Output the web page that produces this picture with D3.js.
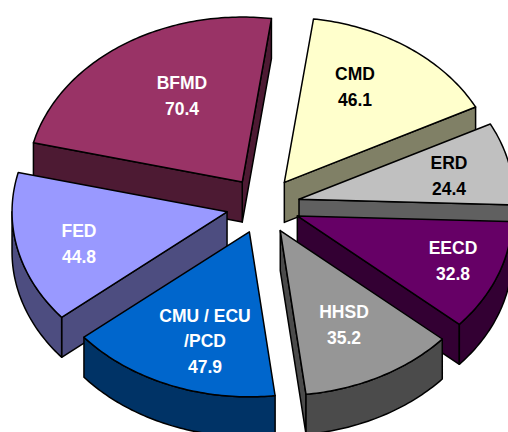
<!DOCTYPE html>
<html>
<head>
<meta charset="utf-8">
<title>Exploded pie</title>
<script src="https://cdn.jsdelivr.net/npm/d3@7"></script>
<style>
  html, body { margin: 0; padding: 0; background: #fff; overflow: hidden; }
  svg { display: block; }
</style>
</head>
<body>
<div id="chart"></div>
<script>
// values, clockwise from the CMD slice
const categories = ["CMD", "ERD", "EECD", "HHSD", "CMU / ECU\n/PCD", "FED", "BFMD"];
const values = [46.1, 24.4, 32.8, 35.2, 47.9, 44.8, 70.4];
const topColors = ["#ffffcc", "#c0c0c0", "#660066", "#969696", "#0066cc", "#9999ff", "#993366"];
const sideColors = ["#808066", "#606060", "#330033", "#4b4b4b", "#003366", "#4d4d80", "#4d1a33"];
const textColors = ["#000", "#000", "#fff", "#fff", "#fff", "#fff", "#fff"];
// label centres, the original placed these by hand
const labelCentres = [[355, 87], [449, 176], [453, 261], [344, 325], [205, 341], [79, 244], [182, 96]];

const width = 508;
const height = 432;
const cx = 263;
const cy = 205.5;
const rx = 215;
const ry = 165;
const depth = 40;
const explode = 36.9;
const firstAngle = 7.8 * Math.PI / 180;

const svg = d3.select("#chart").append("svg")
    .attr("width", width)
    .attr("height", height)
    .attr("viewBox", `0 0 ${width} ${height}`);

const pie = d3.pie()
    .sort(null)
    .startAngle(firstAngle)
    .endAngle(firstAngle + 2 * Math.PI);

const slices = pie(values).map((d, i) => {
    const mid = (d.startAngle + d.endAngle) / 2;
    return {
        ...d,
        i,
        mid,
        ax: cx + explode * Math.sin(mid),
        ay: cy - explode * (ry / rx) * Math.cos(mid)
    };
});

const line = d3.line();

function rimPoint(s, a, drop = 0) {
    return [s.ax + rx * Math.sin(a), s.ay - ry * Math.cos(a) + drop];
}

function rim(s, a0, a1, drop = 0) {
    const n = Math.max(2, Math.ceil((a1 - a0) * 60));
    return d3.range(n + 1).map(k => rimPoint(s, a0 + (a1 - a0) * k / n, drop));
}

function wall(s, a) {
    const p = rimPoint(s, a);
    return line([[s.ax, s.ay], p, [p[0], p[1] + depth], [s.ax, s.ay + depth]]) + "Z";
}

// painted from the back of the pie to the front
const ordered = slices.slice().sort((a, b) => d3.ascending(a.ay, b.ay));

const g = svg.selectAll("g.slice")
    .data(ordered)
    .enter()
    .append("g")
    .attr("class", "slice")
    .attr("stroke", "#000")
    .attr("stroke-width", 1.5)
    .attr("stroke-linejoin", "round");

g.each(function(s) {
    const el = d3.select(this);
    const side = sideColors[s.i];

    // cut faces, only those turned towards the viewer
    if (Math.sin(s.endAngle) > 0) {
        el.append("path").attr("d", wall(s, s.endAngle)).attr("fill", side);
    }
    if (Math.sin(s.startAngle) < 0) {
        el.append("path").attr("d", wall(s, s.startAngle)).attr("fill", side);
    }

    // outer wall, the front half of the ellipse
    for (const turn of [0, 2 * Math.PI]) {
        const a0 = Math.max(s.startAngle, Math.PI / 2 + turn);
        const a1 = Math.min(s.endAngle, 3 * Math.PI / 2 + turn);
        if (a1 > a0) {
            const pts = rim(s, a0, a1).concat(rim(s, a0, a1, depth).reverse());
            el.append("path").attr("d", line(pts) + "Z").attr("fill", side);
        }
    }

    el.append("path")
        .attr("d", line([[s.ax, s.ay], ...rim(s, s.startAngle, s.endAngle)]) + "Z")
        .attr("fill", topColors[s.i]);
});

const lineGap = 25.5;

svg.selectAll("text.label")
    .data(slices)
    .enter()
    .append("text")
    .attr("class", "label")
    .attr("font-family", "'Liberation Sans', Arial, sans-serif")
    .attr("font-size", 17.5)
    .attr("font-weight", "bold")
    .attr("text-anchor", "middle")
    .attr("fill", d => textColors[d.i])
    .each(function(d) {
        const rows = [...categories[d.i].split("\n"), d.value.toFixed(1)];
        const [x, y] = labelCentres[d.i];
        d3.select(this).selectAll("tspan")
            .data(rows)
            .enter()
            .append("tspan")
            .attr("x", x)
            .attr("y", (t, k) => y + (k - (rows.length - 1) / 2) * lineGap + 6)
            .text(t => t);
    });
</script>
</body>
</html>
